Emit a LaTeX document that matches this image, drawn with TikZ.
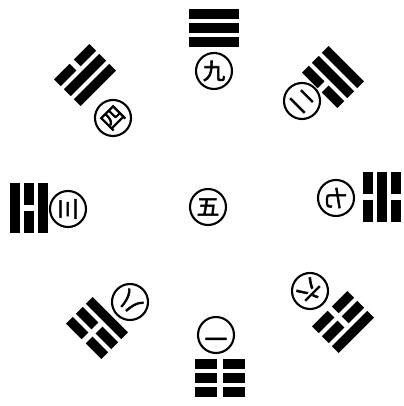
\documentclass[tikz,border=0pt]{standalone}
\usepackage{fontspec}
\newfontfamily\cjk[FakeBold=2.5]{Noto Sans CJK SC}
\begin{document}
\begin{tikzpicture}[x=0.025cm,y=0.025cm]
    \tikzset{
        numeral/.style={draw, circle, line width=1.5pt, minimum size=0.9cm, inner sep=0pt, align=center,
            font=\cjk\fontsize{16}{16}\selectfont}
    }
    \useasboundingbox (0,0) rectangle (403,406);

    % the eight trigrams, inner line first
    \foreach \tx/\ty/\rot/\a/\b/\c in {%
        214/378/0/1/1/1, 333/329/-45/0/1/1, 382/209/-90/0/1/0, 343/84/-135/0/0/1,%
        220/28/180/0/0/0, 97/78/135/1/0/0, 29/198/90/1/0/1, 85/331/45/1/1/0%
    }{
        \begin{scope}[shift={(\tx,\ty)}, rotate=\rot]
            \foreach \k/\v in {1/\a,2/\b,3/\c}{
                \pgfmathsetmacro\yy{(\k-2)*14}
                \ifnum\v=1
                    \fill (-25,\yy-4.8) rectangle (25,\yy+4.8);
                \else
                    \fill (-25,\yy-4.8) rectangle (-3,\yy+4.8);
                    \fill (3,\yy-4.8) rectangle (25,\yy+4.8);
                \fi
            }
        \end{scope}
    }

    % the numbers
    \draw node[numeral] (n5) at (208,199) {五};
    \draw node[numeral, rotate=0] (n9) at (214,335) {九};
    \draw node[numeral, rotate=-45] (n2) at (302,305) {二};
    \draw node[numeral, rotate=-90] (n7) at (336,208) {七};
    \draw node[numeral, rotate=-135] (n6) at (310,115) {六};
    \draw node[numeral, rotate=180] (n1) at (216,71) {一};
    \draw node[numeral, rotate=135] (n8) at (130,104) {八};
    \draw node[numeral, rotate=90] (n3) at (68,197) {三};
    \draw node[numeral, rotate=45] (n4) at (113,288) {四};
\end{tikzpicture}
\end{document}
